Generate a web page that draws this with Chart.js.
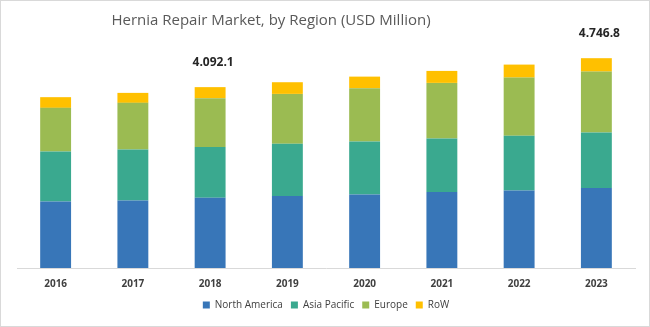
<!DOCTYPE html>
<html>
<head>
<meta charset="utf-8">
<script src="https://cdn.jsdelivr.net/npm/chart.js@4"></script>
<style>
  html, body { margin: 0; padding: 0; background: #fff; }
  #wrap { position: relative; width: 648px; height: 325px; border: 1px solid #d9d9d9; }
</style>
</head>
<body>
<div id="wrap"><canvas id="myChart" width="648" height="325"></canvas></div>
<script>
var years = ["2016", "2017", "2018", "2019", "2020", "2021", "2022", "2023"];
var northAmerica = [1505, 1528, 1589, 1627, 1663, 1718, 1754, 1808];
var asiaPacific = [1130, 1153, 1146, 1182, 1198, 1211, 1236, 1257];
var europe = [988, 1055, 1107, 1130, 1207, 1259, 1318, 1379];
var row = [242, 226, 250.1, 264, 262, 271, 294, 302.8];
// totals are only printed for these years
var labelledYears = ["2018", "2023"];

function fmt(v) {
    var parts = v.toFixed(1).split('.');
    return parts[0].replace(/\B(?=(\d{3})+(?!\d))/g, '.') + '.' + parts[1];
}

var totalLabels = {
    id: 'totalLabels',
    afterDatasetsDraw: function(chart) {
        var c = chart.ctx;
        var last = chart.getDatasetMeta(chart.data.datasets.length - 1);
        c.save();
        c.font = 'bold 12px "Open Sans"';
        c.fillStyle = '#262626';
        c.textAlign = 'center';
        c.textBaseline = 'middle';
        labelledYears.forEach(function(y) {
            var i = years.indexOf(y);
            var total = 0;
            chart.data.datasets.forEach(function(ds) { total += ds.data[i]; });
            var x = last.data[i].x + 3;
            var yPx = chart.scales.y.getPixelForValue(total) - 25;
            c.fillText(fmt(total), x, yPx);
        });
        c.restore();
    }
};

var heading = {
    id: 'heading',
    afterDraw: function(chart) {
        var c = chart.ctx;
        c.save();
        c.font = '15px "Open Sans"';
        c.fillStyle = '#595959';
        c.textAlign = 'center';
        c.textBaseline = 'middle';
        c.fillText('Hernia Repair Market, by Region (USD Million)', 270, 20);
        c.restore();
    }
};

var ctx = document.getElementById('myChart').getContext('2d');
var chart = new Chart(ctx, {
    type: 'bar',
    data: {
        labels: years,
        datasets: [{
            label: 'North America',
            backgroundColor: 'rgb(56, 118, 184)',
            data: northAmerica,
        }, {
            label: 'Asia Pacific',
            backgroundColor: 'rgb(58, 169, 143)',
            data: asiaPacific,
        }, {
            label: 'Europe',
            backgroundColor: 'rgb(155, 187, 82)',
            data: europe,
        }, {
            label: 'RoW',
            backgroundColor: 'rgb(255, 192, 0)',
            data: row,
        }]
    },
    options: {
        responsive: false,
        animation: false,
        layout: { padding: { top: 46, left: 16, right: 14, bottom: 6 } },
        datasets: { bar: { barPercentage: 0.4, categoryPercentage: 1, borderWidth: 0 } },
        scales: {
            x: {
                stacked: true,
                grid: { display: false },
                border: { display: true, color: '#d9d9d9' },
                ticks: { color: '#404040', font: { family: 'Open Sans', size: 10, weight: 'bold' }, padding: 2 }
            },
            y: {
                stacked: true,
                display: false,
                min: 0,
                max: 5000
            }
        },
        plugins: {
            legend: {
                position: 'bottom',
                labels: {
                    boxWidth: 7,
                    boxHeight: 7,
                    padding: 8,
                    color: '#404040',
                    font: { family: 'Open Sans', size: 10 }
                }
            },
            tooltip: { enabled: false }
        }
    },
    plugins: [totalLabels, heading]
});
</script>
</body>
</html>
